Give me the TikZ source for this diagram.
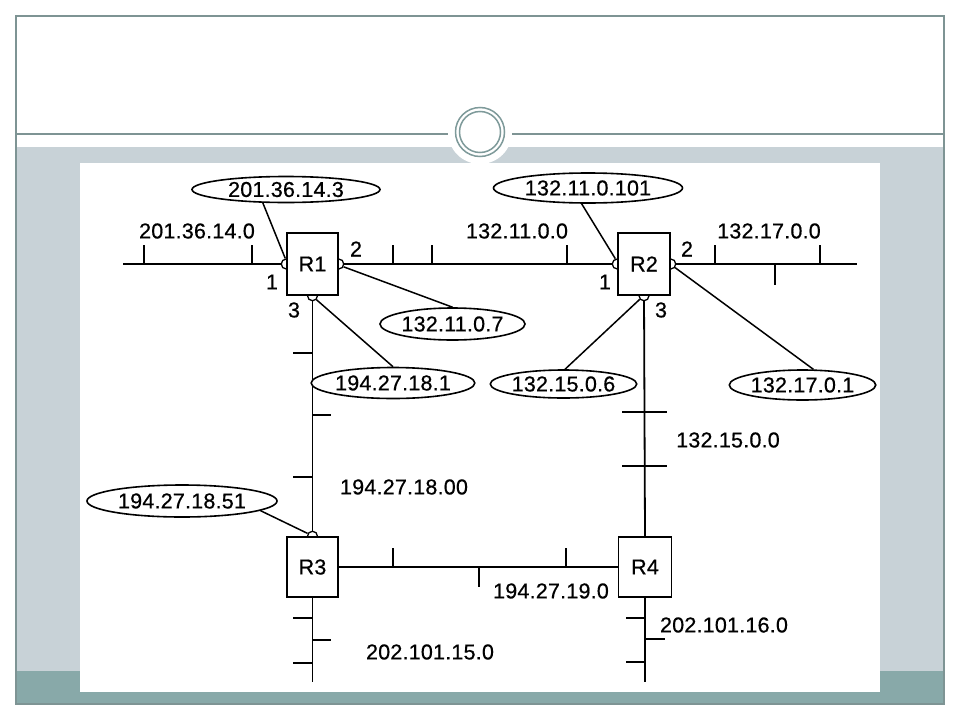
\documentclass[tikz,border=0pt]{standalone}
\usepackage{fontspec}
\setmainfont{Liberation Sans}[LetterSpace=1,FakeBold=0.6]
\usetikzlibrary{shapes.geometric,backgrounds}
\definecolor{framec}{HTML}{7E9494}
\definecolor{bandgrey}{HTML}{C8D2D7}
\definecolor{bandteal}{HTML}{88A9A9}
\definecolor{ringc}{HTML}{7E9A9A}
\pgfdeclarelayer{slide}
\pgfsetlayers{slide,background,main}
\tikzset{
  lbl/.style={inner sep=0pt,font=\fontsize{21.5}{25}\selectfont},
  router/.style={draw,line width=1.5pt,fill=white,minimum width=51pt,minimum height=62pt,inner sep=0pt,font=\fontsize{21.5}{25}\selectfont},
  addr/.style={draw,ellipse,line width=1.6pt,fill=white,inner sep=0pt,font=\fontsize{21.5}{25}\selectfont},
  bus/.style={line width=1.8pt},
  conn/.style={line width=1.5pt},
  port/.style={draw,circle,fill=white,line width=1.3pt,minimum size=10pt,inner sep=0pt},
}
\begin{document}
\begin{tikzpicture}[x=1pt,y=-1pt]
\useasboundingbox (0,0) rectangle (960,720);
\begin{pgfonlayer}{slide}
% slide frame
\fill[white] (0,0) rectangle (960,720);
\fill[bandgrey] (16,147) rectangle (944,704);
\fill[bandteal] (16,671) rectangle (944,704);
\fill[white] (80,163) rectangle (880,692);
\draw[framec,line width=1.2pt] (16,16) rectangle (944,704);
\draw[framec,line width=1.2pt] (16,134) -- (944,134);
\fill[white] (480,132) circle[radius=32];
\draw[ringc,line width=1.5pt] (480,132) circle[radius=24.5];
\draw[ringc,line width=1.5pt] (480,132) circle[radius=20.5];
\end{pgfonlayer}

% routers
\node[router] (R1) at (312.5,264) {R1};
\node[router,minimum width=52pt] (R2) at (644,264) {R2};
\node[router,minimum height=60pt] (R3) at (312.5,567) {R3};
\node[router,minimum width=53pt,minimum height=60pt] (R4) at (645,567) {R4};

% bus end points
\coordinate (busL) at (123,264);
\coordinate (busR) at (857,264);
\coordinate (bus3end) at (312.5,682);
\coordinate (bus4end) at (645,682);

\begin{pgfonlayer}{background}
  % networks
  \draw[bus] (busL) -- (R1.west);
  \draw[bus] (R1.east) -- (R2.west);
  \draw[bus] (R2.east) -- (busR);
  \draw[bus] (R1.south) -- (R3.north);
  \draw[bus] (R2.south) -- (R4.north);
  \draw[bus] (R3.east) -- (R4.west);
  \draw[bus] (R3.south) -- (bus3end);
  \draw[bus] (R4.south) -- (bus4end);
  % ticks 201.36.14.0
  \draw[bus] (144,264) -- (144,245);
  \draw[bus] (252,264) -- (252,245);
  % ticks 132.11.0.0
  \draw[bus] (393,264) -- (393,245);
  \draw[bus] (432,264) -- (432,245);
  \draw[bus] (567,264) -- (567,245);
  % ticks 132.17.0.0
  \draw[bus] (715,264) -- (715,245);
  \draw[bus] (775,264) -- (775,285);
  \draw[bus] (820,264) -- (820,245);
  % ticks 194.27.18.00
  \draw[bus] (312.5,353) -- (293,353);
  \draw[bus] (312.5,415) -- (331,415);
  \draw[bus] (312.5,477) -- (293,477);
  % ticks 132.15.0.0
  \draw[bus] (622,412) -- (667,412);
  \draw[bus] (622,466) -- (667,466);
  % ticks 194.27.19.0
  \draw[bus] (393,567) -- (393,548);
  \draw[bus] (479,567) -- (479,587);
  \draw[bus] (566,567) -- (566,548);
  % ticks 202.101.15.0
  \draw[bus] (312.5,618) -- (293,618);
  \draw[bus] (312.5,640) -- (331,640);
  \draw[bus] (312.5,663) -- (293,663);
  % ticks 202.101.16.0
  \draw[bus] (645,618) -- (626,618);
  \draw[bus] (645,639) -- (665,639);
  \draw[bus] (645,662) -- (626,662);
  % ports
  \node[port] (R1p1) at (R1.west) {};
  \node[port] (R1p2) at (R1.east) {};
  \node[port] (R1p3) at (R1.south) {};
  \node[port] (R2p1) at (R2.west) {};
  \node[port] (R2p2) at (R2.east) {};
  \node[port] (R2p3) at (R2.south) {};
  \node[port] (R3p1) at (R3.north) {};
\end{pgfonlayer}

% address ellipses
\node[addr,minimum width=188pt,minimum height=26pt] (e1) at (286,189.5) {201.36.14.3};
\node[addr,minimum width=145pt,minimum height=32pt] (e2) at (452.5,324) {132.11.0.7};
\node[addr,minimum width=143pt,minimum height=31pt] (e3) at (393,383) {194.27.18.1};
\node[addr,minimum width=189pt,minimum height=30pt] (e4) at (588,188) {132.11.0.101};
\node[addr,minimum width=143pt,minimum height=28pt] (e5) at (563.5,384) {132.15.0.6};
\node[addr,minimum width=145pt,minimum height=30pt] (e6) at (802.5,385) {132.17.0.1};
\node[addr,minimum width=190pt,minimum height=32pt] (e7) at (182,501) {194.27.18.51};

% connectors from addresses to ports
\draw[conn] (e1.210) -- (R1p1.100);
\draw[conn] (e2.north) -- (R1p2.330);
\draw[conn] (e3.north) -- (R1p3.315);
\draw[conn] (e4.248) -- (R2p1.110);
\draw[conn] (e5.84) -- (R2p3.220);
\draw[conn] (e6.55) -- (R2p2.320);
\draw[conn] (e7.353) -- (R3p1.150);

% network labels
\node[lbl] (n1) at (197,231) {201.36.14.0};
\node[lbl] (n2) at (517,231) {132.11.0.0};
\node[lbl] (n3) at (769,231) {132.17.0.0};
\node[lbl] (n4) at (404,487) {194.27.18.00};
\node[lbl] (n5) at (728,440) {132.15.0.0};
\node[lbl] (n6) at (551,591) {194.27.19.0};
\node[lbl] (n7) at (724,625) {202.101.16.0};
\node[lbl] (n8) at (430,652) {202.101.15.0};

% port numbers
\node[lbl] (R1n1) at (272,282) {1};
\node[lbl] (R1n2) at (356,249) {2};
\node[lbl] (R1n3) at (294,310) {3};
\node[lbl] (R2n1) at (605,282) {1};
\node[lbl] (R2n2) at (687,249) {2};
\node[lbl] (R2n3) at (661,310) {3};
\end{tikzpicture}
\end{document}
